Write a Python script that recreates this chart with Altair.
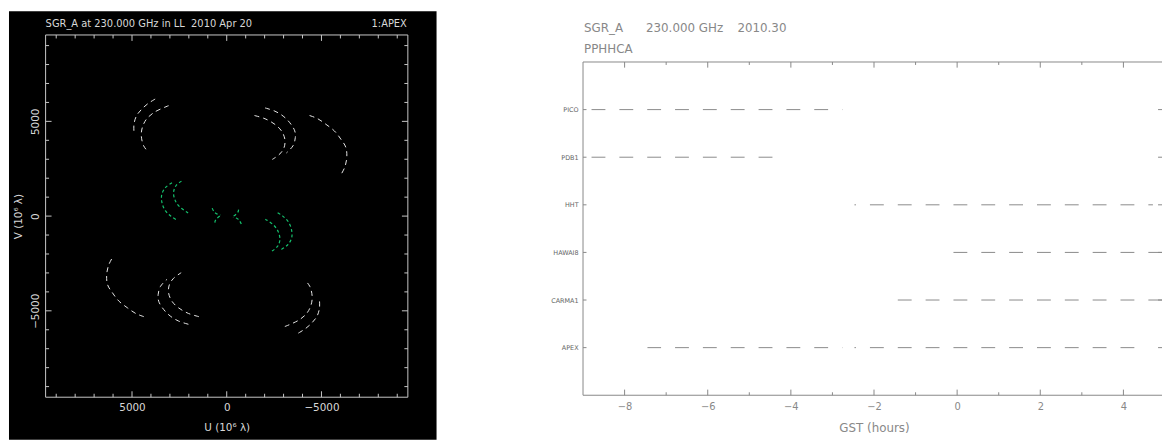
import altair as alt
import pandas as pd

# ---------------- data ----------------
# Left panel: UV tracks (10^6 lambda); each track is also drawn at (-u, -v)
A_U = [3778, 4164, 4509, 4770, 4896, 4896]
A_V = [6178, 5933, 5621, 5278, 4841, 4446]
B_U = [3067, 3814, 4248, 4457, 4509, 4389, 4164]
B_V = [5829, 5486, 5101, 4670, 4238, 3718, 3406]
C_U = [-1463, -2022, -2545, -2889, -3067, -3031, -2806, -2404]
C_V = [5309, 5138, 4841, 4498, 4061, 3630, 3281, 2990]
D_U = [-2022, -2545, -2978, -3328, -3590, -3621, -3501, -3151]
D_V = [5710, 5538, 5278, 4930, 4498, 4150, 3718, 3333]
E_U = [-4373, -4807, -5241, -5680, -6024, -6286, -6338, -6233, -5993]
E_V = [5309, 5138, 4841, 4498, 4061, 3630, 3110, 2590, 2122]
G1_U = [2889, 3240, 3433, 3412, 3240, 2942, 2680]
G1_V = [1758, 1498, 1118, 681, 286, -10, -182]
G2_U = [2388, 2680, 2806, 2733, 2508, 2038]
G2_V = [1846, 1602, 1253, 858, 510, 161]
G3_U = [768, 653, 496, 329]
G3_V = [421, 213, 104, 62]
G4_U = [366, 523, 611, 627]
G4_V = [0, -130, -260, -390]

U_MAJOR = [-5000, 0, 5000]
U_MINOR = [-9000, -8000, -7000, -6000, -4000, -3000, -2000, -1000,
           1000, 2000, 3000, 4000, 6000, 7000, 8000, 9000]

LEFT_TITLE = "SGR_A at 230.000 GHz in LL\u00a0\u00a02010 Apr 20"
LEFT_TAG = "1:APEX"

# Right panel: station time coverage (GST hours)
STATIONS = ["PICO", "PDB1", "HHT", "HAWAI8", "CARMA1", "APEX"]
SEG_STATION = ["PICO", "PDB1", "HHT", "HAWAI8", "CARMA1", "APEX", "APEX"]
SEG_START = [-9.0, -9.0, -2.47, -0.10, -1.44, -7.45, -2.47]
SEG_END = [-2.76, -4.40, 4.71, 5.0, 5.0, -2.76, 4.40]
H_MAJOR = [-8, -6, -4, -2, 0, 2, 4]
H_MINOR = [-7, -5, -3, -1, 1, 3]
RIGHT_TITLE = ["SGR_A", "230.000 GHz", "2010.30"]
RIGHT_SUB = "PPHHCA"

# ---------------- layout / style ----------------
LW = 366
LDOM = 9560
RW, RH = 585, 364
RT = 27.3            # right frame top, below the shared view origin
PX_PER_H = 42.0
X0 = -9.0
XMAX = X0 + RW / PX_PER_H
RIGHT_TITLE_X = [1, 63.6, 156]
FG = "#d8d8d8"
GRID = "#c8c8c8"
GREEN = "#14c36e"
GRAY = "#888888"
FONT = "DejaVu Sans"

# ---------------- left panel ----------------
rows = []
for name, us, vs, kind in [("A", A_U, A_V, "w"), ("B", B_U, B_V, "w"), ("C", C_U, C_V, "w"),
                           ("D", D_U, D_V, "w"), ("E", E_U, E_V, "w"),
                           ("G1", G1_U, G1_V, "g"), ("G2", G2_U, G2_V, "g"),
                           ("G3", G3_U, G3_V, "g"), ("G4", G4_U, G4_V, "g")]:
    for i, (u, v) in enumerate(zip(us, vs)):
        rows.append(dict(track=name, order=i, u=u, v=v, kind=kind))
        rows.append(dict(track=name + "c", order=i, u=-u, v=-v, kind=kind))
tracks = pd.DataFrame(rows)

uscale = alt.Scale(domain=[-LDOM, LDOM], reverse=True, nice=False, zero=False)
vscale = alt.Scale(domain=[-LDOM, LDOM], nice=False, zero=False)
xaxis = alt.Axis(values=U_MAJOR, format="d", ticks=False, domain=False, grid=False,
                 labelFont=FONT, labelFontSize=10.5, labelColor=FG, labelPadding=5,
                 title="U (10\u2076 \u03bb)", titleFont=FONT, titleFontSize=10.5,
                 titleFontWeight="normal", titleColor=FG, titlePadding=10, zindex=1)
yaxis = alt.Axis(values=U_MAJOR, format="d", ticks=False, domain=False, grid=False,
                 labelFont=FONT, labelFontSize=10.5, labelColor=FG, labelPadding=5,
                 labelAngle=-90, labelAlign="center", labelBaseline="bottom",
                 title="V (10\u2076 \u03bb)", titleFont=FONT, titleFontSize=10.5,
                 titleFontWeight="normal", titleColor=FG, titlePadding=7, zindex=1)
XU = alt.X("u:Q", scale=uscale, axis=xaxis)
YV = alt.Y("v:Q", scale=vscale, axis=yaxis)

one = alt.Data(values=[{"a": 1}])

bg = alt.Chart(one).mark_rect(color="black").encode(
    x=alt.value(-37), x2=alt.value(395), y=alt.value(-24), y2=alt.value(409))
frame = alt.Chart(one).mark_rect(fill="transparent", stroke=GRID, strokeWidth=1).encode(
    x=alt.value(0), x2=alt.value(LW), y=alt.value(0), y2=alt.value(LW))

def uticks(vals, ln):
    d = pd.DataFrame({"u": vals})
    b = alt.Chart(d).mark_rule(color=GRID).encode(x=XU, y=alt.value(LW), y2=alt.value(LW - ln))
    t = alt.Chart(d).mark_rule(color=GRID).encode(x=XU, y=alt.value(0), y2=alt.value(ln))
    return [b, t]

def vticks(vals, ln):
    d = pd.DataFrame({"v": vals})
    l = alt.Chart(d).mark_rule(color=GRID).encode(y=YV, x=alt.value(0), x2=alt.value(ln))
    r = alt.Chart(d).mark_rule(color=GRID).encode(y=YV, x=alt.value(LW), x2=alt.value(LW - ln))
    return [l, r]

white = alt.Chart(tracks).transform_filter(alt.datum.kind == "w").mark_line(
    color="#e8e8e8", strokeWidth=1, strokeDash=[5, 4], interpolate="catmull-rom").encode(
    x=XU, y=YV, detail="track:N", order="order:Q")
green = alt.Chart(tracks).transform_filter(alt.datum.kind == "g").mark_line(
    color=GREEN, strokeWidth=1.2, strokeDash=[3, 2.5], interpolate="catmull-rom").encode(
    x=XU, y=YV, detail="track:N", order="order:Q")

ltitle = alt.Chart(one).mark_text(align="left", baseline="middle", font=FONT, fontSize=10,
                                  color=FG).encode(
    x=alt.value(0), y=alt.value(-11), text=alt.value(LEFT_TITLE))
ltag = alt.Chart(one).mark_text(align="right", baseline="middle", font=FONT, fontSize=10,
                                color=FG).encode(
    x=alt.value(LW - 1), y=alt.value(-11), text=alt.value(LEFT_TAG))

left = alt.layer(
    bg, frame,
    *uticks(U_MAJOR, 6), *uticks(U_MINOR, 3.5),
    *vticks(U_MAJOR, 6), *vticks(U_MINOR, 3.5),
    white, green, ltitle, ltag,
).properties(width=LW, height=LW)

# ---------------- right panel ----------------
hscale = alt.Scale(domain=[X0, XMAX], nice=False, zero=False)
haxis = alt.Axis(values=H_MAJOR, format="d", ticks=False, domain=False, grid=False,
                 labelFont=FONT, labelFontSize=10, labelColor=GRAY, labelPadding=6,
                 title="GST (hours)", titleFont=FONT, titleFontSize=12,
                 titleFontWeight="normal", titleColor=GRAY, titlePadding=12,
                 titleX=294)
XH = alt.X("h:Q", scale=hscale, axis=haxis)
ROW_STEP = 48.1
YS = alt.Y("station:N", sort=STATIONS,
           scale=alt.Scale(type="point", domain=STATIONS, padding=0,
                           range=[RT + ROW_STEP, RT + 6 * ROW_STEP]),
           axis=alt.Axis(ticks=False, domain=False, grid=False, labelFont=FONT,
                         labelFontSize=6.5, labelColor="#666666", labelPadding=5,
                         title=None))

spacer = alt.Chart(one).mark_rect(color="white").encode(
    x=alt.value(-145.7), x2=alt.value(-140), y=alt.value(-24), y2=alt.value(-20))

rframe = [
    alt.Chart(one).mark_rule(color=GRAY).encode(x=alt.value(0), x2=alt.value(RW), y=alt.value(RT)),
    alt.Chart(one).mark_rule(color=GRAY).encode(x=alt.value(0), x2=alt.value(RW), y=alt.value(RH)),
    alt.Chart(one).mark_rule(color=GRAY).encode(x=alt.value(0), y=alt.value(RT), y2=alt.value(RH)),
]

def hticks(vals, ln):
    d = pd.DataFrame({"h": vals})
    b = alt.Chart(d).mark_rule(color=GRAY).encode(x=XH, y=alt.value(RH), y2=alt.value(RH - ln))
    t = alt.Chart(d).mark_rule(color=GRAY).encode(x=XH, y=alt.value(RT), y2=alt.value(RT + ln))
    return [b, t]

sdf = pd.DataFrame({"station": STATIONS})
rowticks = [
    alt.Chart(sdf).mark_rule(color=GRAY).encode(y=YS, x=alt.value(0), x2=alt.value(3.5)),
    alt.Chart(sdf).mark_rule(color=GRAY).encode(y=YS, x=alt.value(RW - 4), x2=alt.value(RW)),
]

P = 28.13
segs = []
for st, s, e in zip(SEG_STATION, SEG_START, SEG_END):
    spx = (s - X0) * PX_PER_H
    off = (spx - 8.6) % P
    d = pd.DataFrame({"station": [st], "h": [s], "h2": [e]})
    segs.append(alt.Chart(d).mark_rule(color="#8a8a8a", strokeWidth=1, strokeDash=[14, P - 14],
                                       strokeDashOffset=off, clip=True).encode(
        x=XH, x2="h2:Q", y=YS))

rtitles = [alt.Chart(one).mark_text(align="left", baseline="middle", font=FONT, fontSize=12,
                                    color=GRAY).encode(
    x=alt.value(xp), y=alt.value(RT - 34.3), text=alt.value(t))
    for t, xp in zip(RIGHT_TITLE, RIGHT_TITLE_X)]
rsub = alt.Chart(one).mark_text(align="left", baseline="middle", font=FONT, fontSize=12,
                                color=GRAY).encode(
    x=alt.value(1), y=alt.value(RT - 13.3), text=alt.value(RIGHT_SUB))

right = alt.layer(
    spacer, *rframe, *hticks(H_MAJOR, 5.7), *hticks(H_MINOR, 3), *rowticks,
    *segs, *rtitles, rsub,
).properties(width=RW, height=RH)

chart = alt.hconcat(left, right, spacing=0).properties(
    padding=0, background="white"
).configure_view(stroke="transparent")

chart.save("out.html", embed_options={"renderer": "svg", "actions": False})
